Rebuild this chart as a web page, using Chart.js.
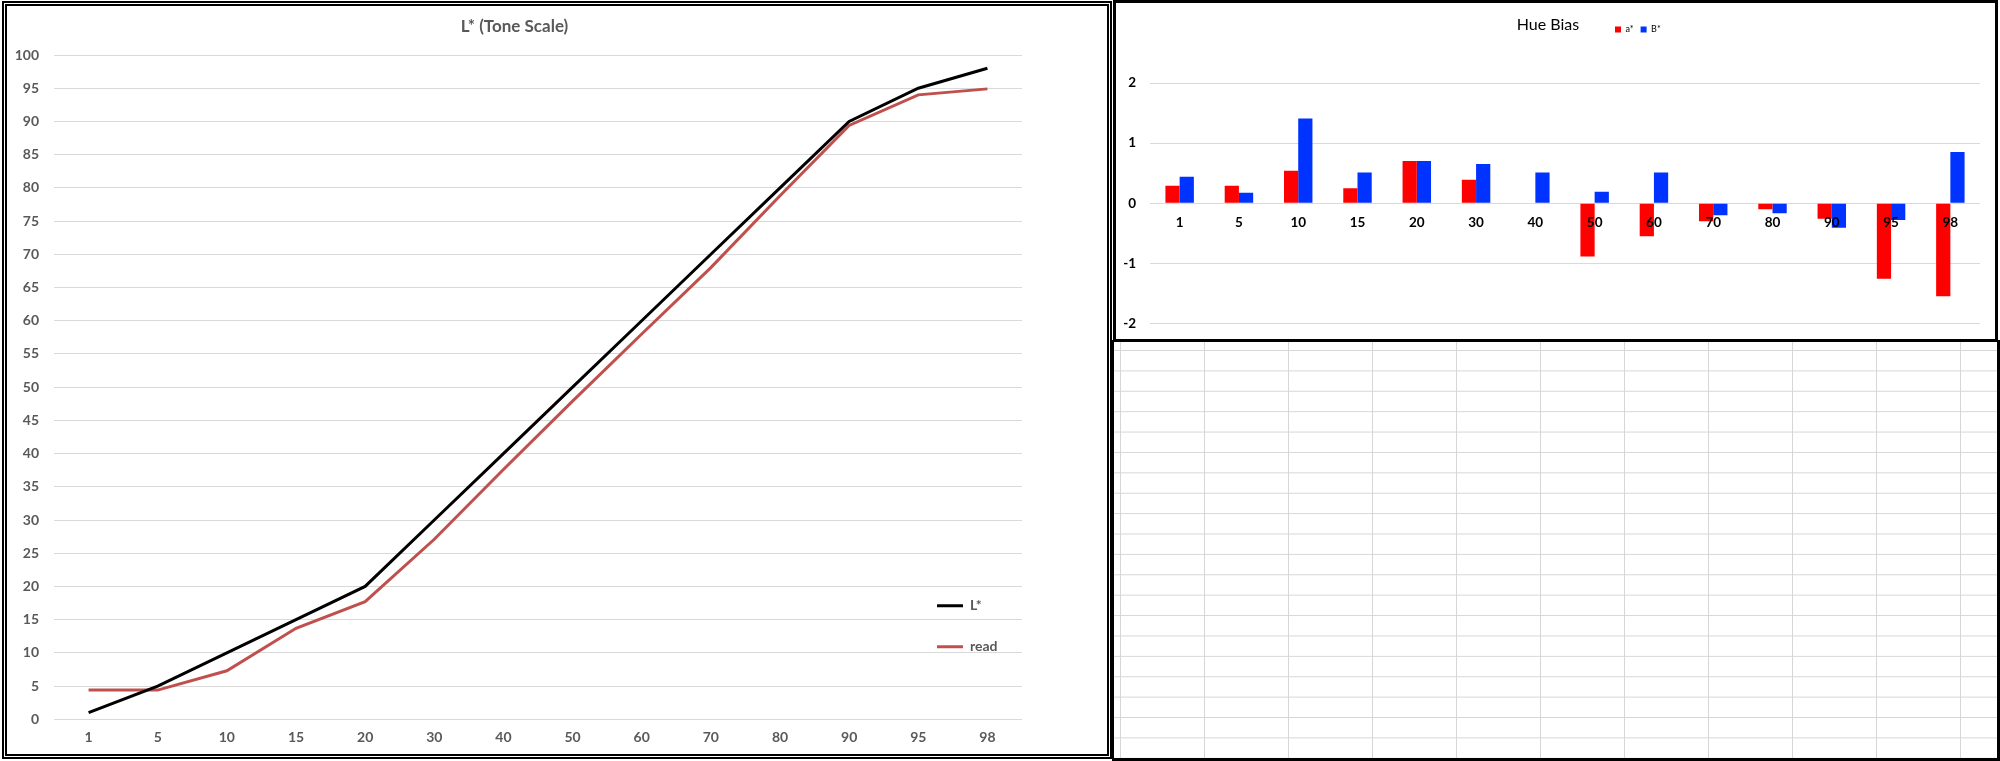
<!DOCTYPE html>
<html lang="en">
<head>
    <meta charset="UTF-8">
    <title>L* (Tone Scale) / Hue Bias</title>
    <script src="https://cdn.jsdelivr.net/npm/chart.js"></script>
    <style>
        * {
            box-sizing: border-box;
            margin: 0;
            padding: 0;
        }
        body {
            width: 2000px;
            height: 761px;
            position: relative;
            overflow: hidden;
            background: #fff;
        }
        .box {
            position: absolute;
            background: #fff;
        }
        #toneBox {
            left: 2px;
            top: 1px;
            width: 1110px;
            height: 758px;
            border: 5px double #000;
        }
        #hueBox {
            left: 1113px;
            top: 0;
            width: 885px;
            height: 342px;
            border: 3px solid #000;
        }
        /* spreadsheet cells under the small chart */
        #sheet {
            left: 1112px;
            top: 340px;
            width: 888px;
            height: 421px;
            border-left: 2px solid #000;
            border-right: 3px solid #000;
            border-bottom: 3px solid #000;
            background-image:
                linear-gradient(to right, #d6d6d6 1px, transparent 1px),
                linear-gradient(to bottom, #d6d6d6 1px, transparent 1px);
            background-size: 84px 20.4px;
            background-position: 6px 10px;
        }
        canvas {
            display: block;
        }
    </style>
</head>
<body>

    <div class="box" id="sheet"></div>
    <div class="box" id="toneBox"><canvas id="toneChart" width="1100" height="748"></canvas></div>
    <div class="box" id="hueBox"><canvas id="hueChart" width="879" height="336"></canvas></div>

    <script>
        // categorias comunes a las dos gráficas
        const categories = ['1', '5', '10', '15', '20', '30', '40', '50', '60', '70', '80', '90', '95', '98'];

        // L* (Tone Scale)
        const lStar = [1, 5, 10, 15, 20, 30, 40, 50, 60, 70, 80, 90, 95, 98];
        const readValues = [4.4, 4.4, 7.3, 13.7, 17.7, 27.1, 37.6, 47.9, 58, 68, 78.8, 89.4, 94.0, 94.9];
        const toneTicks = { min: 0, max: 100, step: 5 };

        // Hue Bias
        const aStar = [0.29, 0.29, 0.54, 0.25, 0.70, 0.39, 0, -0.89, -0.55, -0.30, -0.10, -0.26, -1.26, -1.55];
        const bStar = [0.44, 0.175, 1.41, 0.51, 0.70, 0.65, 0.51, 0.19, 0.51, -0.20, -0.17, -0.41, -0.28, 0.85];
        const hueTicks = { min: -2, max: 2, step: 1 };

        Chart.defaults.font.family = 'Lato, "Open Sans", sans-serif';
        Chart.defaults.devicePixelRatio = 1;

        // mueve la leyenda a un punto fijo del canvas (como en Excel)
        const legendAt = {
            id: 'legendAt',
            afterLayout(chart, args, opts) {
                const lg = chart.legend;
                if (!lg || opts.left === undefined) return;
                lg.left = opts.left;
                lg.top = opts.top;
                lg.right = opts.left + 300;
                lg.bottom = opts.top + 200;
            }
        };

        const grey = '#595959';
        const gridColor = '#d9d9d9';

        new Chart(document.getElementById('toneChart'), {
            type: 'line',
            data: {
                labels: categories,
                datasets: [{
                    label: 'L*',
                    data: lStar,
                    borderColor: '#000000',
                    backgroundColor: '#000000',
                    borderWidth: 3,
                    pointRadius: 0,
                    tension: 0
                }, {
                    label: 'read',
                    data: readValues,
                    borderColor: '#c0504d',
                    backgroundColor: '#c0504d',
                    borderWidth: 3,
                    pointRadius: 0,
                    tension: 0
                }]
            },
            options: {
                responsive: false,
                animation: false,
                layout: { padding: { left: 0, right: 85, top: 0, bottom: 0 } },
                plugins: {
                    title: {
                        display: true,
                        text: 'L* (Tone Scale)',
                        color: grey,
                        font: { size: 17, weight: 'bold' },
                        padding: { top: 10.8, bottom: 17.8 }
                    },
                    legend: {
                        position: 'chartArea',
                        align: 'start',
                        labels: {
                            usePointStyle: true,
                            pointStyle: 'line',
                            pointStyleWidth: 26,
                            padding: 27,
                            color: grey,
                            font: { size: 14, weight: 'bold' }
                        }
                    },
                    legendAt: { left: 903, top: 565.7 },
                    tooltip: { enabled: false }
                },
                scales: {
                    x: {
                        offset: true,
                        grid: { display: false, drawTicks: false },
                        border: { display: false },
                        ticks: {
                            color: grey,
                            font: { size: 14, weight: 'bold' },
                            padding: 10,
                            maxRotation: 0,
                            autoSkip: false
                        },
                        afterFit: (scale) => { scale.height = 34.7; }
                    },
                    y: {
                        min: toneTicks.min,
                        max: toneTicks.max,
                        grid: { color: gridColor, lineWidth: 1, drawTicks: false },
                        border: { display: false },
                        ticks: {
                            stepSize: toneTicks.step,
                            color: grey,
                            font: { size: 14, weight: 'bold' },
                            padding: 15
                        },
                        afterFit: (scale) => { scale.width = 47; }
                    }
                }
            },
            plugins: [legendAt]
        });

        new Chart(document.getElementById('hueChart'), {
            type: 'bar',
            data: {
                labels: categories,
                datasets: [{
                    label: 'a*',
                    data: aStar,
                    backgroundColor: '#ff0000',
                    borderWidth: 0,
                    categoryPercentage: 0.48,
                    barPercentage: 1.0
                }, {
                    label: 'B*',
                    data: bStar,
                    backgroundColor: '#0033ff',
                    borderWidth: 0,
                    categoryPercentage: 0.48,
                    barPercentage: 1.0
                }]
            },
            options: {
                responsive: false,
                animation: false,
                layout: { padding: { left: 0, right: 15, top: 0, bottom: 15.7 } },
                plugins: {
                    title: {
                        display: true,
                        text: 'Hue Bias',
                        color: '#000000',
                        font: { size: 16, weight: 'normal' },
                        padding: { top: 12.4, bottom: 22.4 }
                    },
                    legend: {
                        position: 'top',
                        align: 'start',
                        labels: {
                            boxWidth: 6,
                            boxHeight: 6,
                            padding: 7,
                            color: '#000000',
                            font: { size: 9 }
                        }
                    },
                    legendAt: { left: 492, top: 15 },
                    tooltip: { enabled: false }
                },
                scales: {
                    x: {
                        position: { y: 0 },
                        grid: { display: false, drawTicks: false },
                        border: { display: false },
                        ticks: {
                            z: 1,
                            color: '#000000',
                            font: { size: 13.5, weight: 'bold' },
                            padding: 11.8,
                            maxRotation: 0,
                            autoSkip: false
                        }
                    },
                    y: {
                        min: hueTicks.min,
                        max: hueTicks.max,
                        grid: { color: gridColor, lineWidth: 1, drawTicks: false },
                        border: { display: false },
                        ticks: {
                            stepSize: hueTicks.step,
                            color: '#000000',
                            font: { size: 13.5, weight: 'bold' },
                            padding: 14
                        },
                        afterFit: (scale) => {
                            scale.width = 34;
                            // que el padding de las etiquetas no empuje el área del gráfico
                            scale.paddingTop = 0;
                            scale.paddingBottom = 0;
                        }
                    }
                }
            },
            plugins: [legendAt]
        });
    </script>

</body>
</html>
